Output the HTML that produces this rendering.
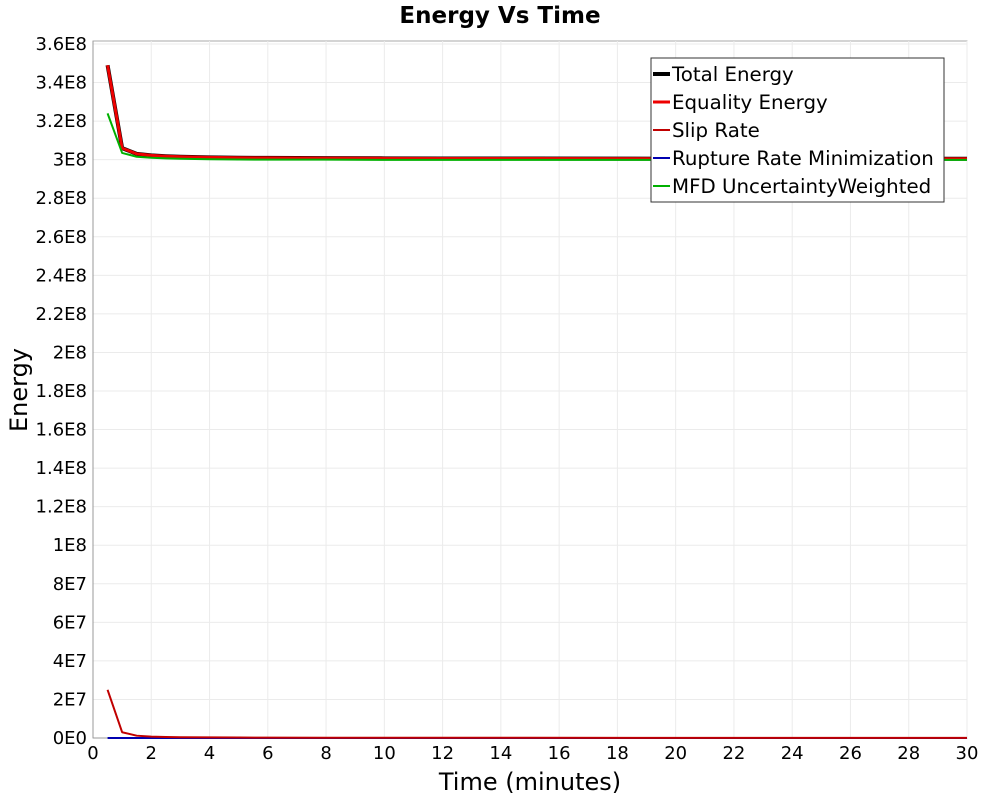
<!DOCTYPE html>
<html><head><meta charset="utf-8"><style>
body{margin:0;background:#fff;font-family:"Liberation Sans","DejaVu Sans",sans-serif;}
svg text{font-family:"DejaVu Sans","Liberation Sans",sans-serif;}
</style></head><body>
<svg id="chart" width="1000" height="800"></svg>
<script>
const times=[0.5,1,1.5,2,2.5,3,4,5,6,8,10,12,15,20,25,30];
const totalEnergy=[3.49e8,3.06e8,3.03e8,3.022e8,3.018e8,3.015e8,3.012e8,3.01e8,3.009e8,3.008e8,3.007e8,3.006e8,3.006e8,3.005e8,3.005e8,3.005e8];
const equalityEnergy=[3.49e8,3.06e8,3.03e8,3.022e8,3.018e8,3.015e8,3.012e8,3.01e8,3.009e8,3.008e8,3.007e8,3.006e8,3.006e8,3.005e8,3.005e8,3.005e8];
const slipRate=[2.5e7,3e6,1.2e6,7e5,5e5,4e5,3e5,2.5e5,2e5,1.5e5,1.2e5,1e5,1e5,8e4,8e4,8e4];
const ruptureRate=[1e4,1e4,1e4,1e4,1e4,1e4,1e4,1e4,1e4,1e4,1e4,1e4,1e4,1e4,1e4,1e4];
const mfdWeighted=[3.24e8,3.035e8,3.015e8,3.01e8,3.007e8,3.005e8,3.002e8,3.001e8,3.0e8,3.0e8,2.999e8,2.999e8,2.999e8,2.999e8,2.999e8,2.999e8];
const xTicks=[0,2,4,6,8,10,12,14,16,18,20,22,24,26,28,30];
const yTicks=[0,2e7,4e7,6e7,8e7,1e8,1.2e8,1.4e8,1.6e8,1.8e8,2e8,2.2e8,2.4e8,2.6e8,2.8e8,3e8,3.2e8,3.4e8,3.6e8];
const yTickLabels=["0E0","2E7","4E7","6E7","8E7","1E8","1.2E8","1.4E8","1.6E8","1.8E8","2E8","2.2E8","2.4E8","2.6E8","2.8E8","3E8","3.2E8","3.4E8","3.6E8"];
const L=93,R=967,T=41,B=738;
const X=v=>L+(v-0)/(30-0)*(R-L);
const Y=v=>B-v/3.6e8*(B-44);
const svg=document.getElementById('chart');
const NS='http://www.w3.org/2000/svg';
function mk(tag,attrs,parent){const e=document.createElementNS(NS,tag);for(const k in attrs)e.setAttribute(k,attrs[k]);(parent||svg).appendChild(e);return e;}
let e;
e=mk('rect',{x:L,y:T,width:R-L,height:B-T,fill:'#fff',stroke:'#aaa'});


xTicks.forEach(t=>{
 e=mk('line',{x1:X(t),x2:X(t),y1:T,y2:B,stroke:'#ebebeb'});
 
 
 e=mk('text',{x:X(t),y:B+21,'font-size':18,'text-anchor':'middle'});e.textContent=t;
 
 
});
yTicks.forEach((t,i)=>{
 e=mk('line',{x1:L,x2:R,y1:Y(t),y2:Y(t),stroke:'#ebebeb'});
 
 
 e=mk('text',{x:L-6,y:Y(t)+6,'font-size':18,'text-anchor':'end'});e.textContent=yTickLabels[i];
 
 
});
e=mk('line',{x1:L,x2:L,y1:T,y2:B,stroke:'#999'});


e=mk('line',{x1:L,x2:R,y1:B,y2:B,stroke:'#999'});


function series(vals,color,w,name){
 const p=times.map((t,i)=>X(t)+','+Y(vals[i])).join(' ');
 const el=mk('polyline',{points:p,fill:'none',stroke:color,'stroke-width':w,'stroke-linejoin':'round'});
 
 
}
series(totalEnergy,'#000',4,'total-energy-line');
series(equalityEnergy,'#e00',3,'equality-energy-line');
series(ruptureRate,'#0000b0',2,'rupture-rate-line');
series(slipRate,'#c00000',2,'slip-rate-line');
series(mfdWeighted,'#00b000',2,'mfd-uncertainty-line');
e=mk('text',{x:500,y:23,'font-size':23,'font-weight':'bold','text-anchor':'middle'});e.textContent='Energy Vs Time';


e=mk('text',{x:530,y:790,'font-size':24,'text-anchor':'middle'});e.textContent='Time (minutes)';


e=mk('text',{x:27,y:390,'font-size':24,'text-anchor':'middle',transform:'rotate(-90 27 390)'});e.textContent='Energy';


const g=mk('g',{});


mk('rect',{x:651,y:58,width:293,height:144,fill:'#fff',stroke:'#333'},g);
const leg=[['Total Energy','#000',4],['Equality Energy','#e00',3],['Slip Rate','#c00000',2],['Rupture Rate Minimization','#0000b0',2],['MFD UncertaintyWeighted','#00b000',2]];
leg.forEach((l,i)=>{
 const yy=74+i*28;
 const it=mk('g',{},g);
 
 
 mk('line',{x1:653,x2:670,y1:yy,y2:yy,stroke:l[1],'stroke-width':l[2]},it);
 const t=mk('text',{x:672,y:yy+7,'font-size':19.8},it);t.textContent=l[0];
});
</script>
</body></html>
